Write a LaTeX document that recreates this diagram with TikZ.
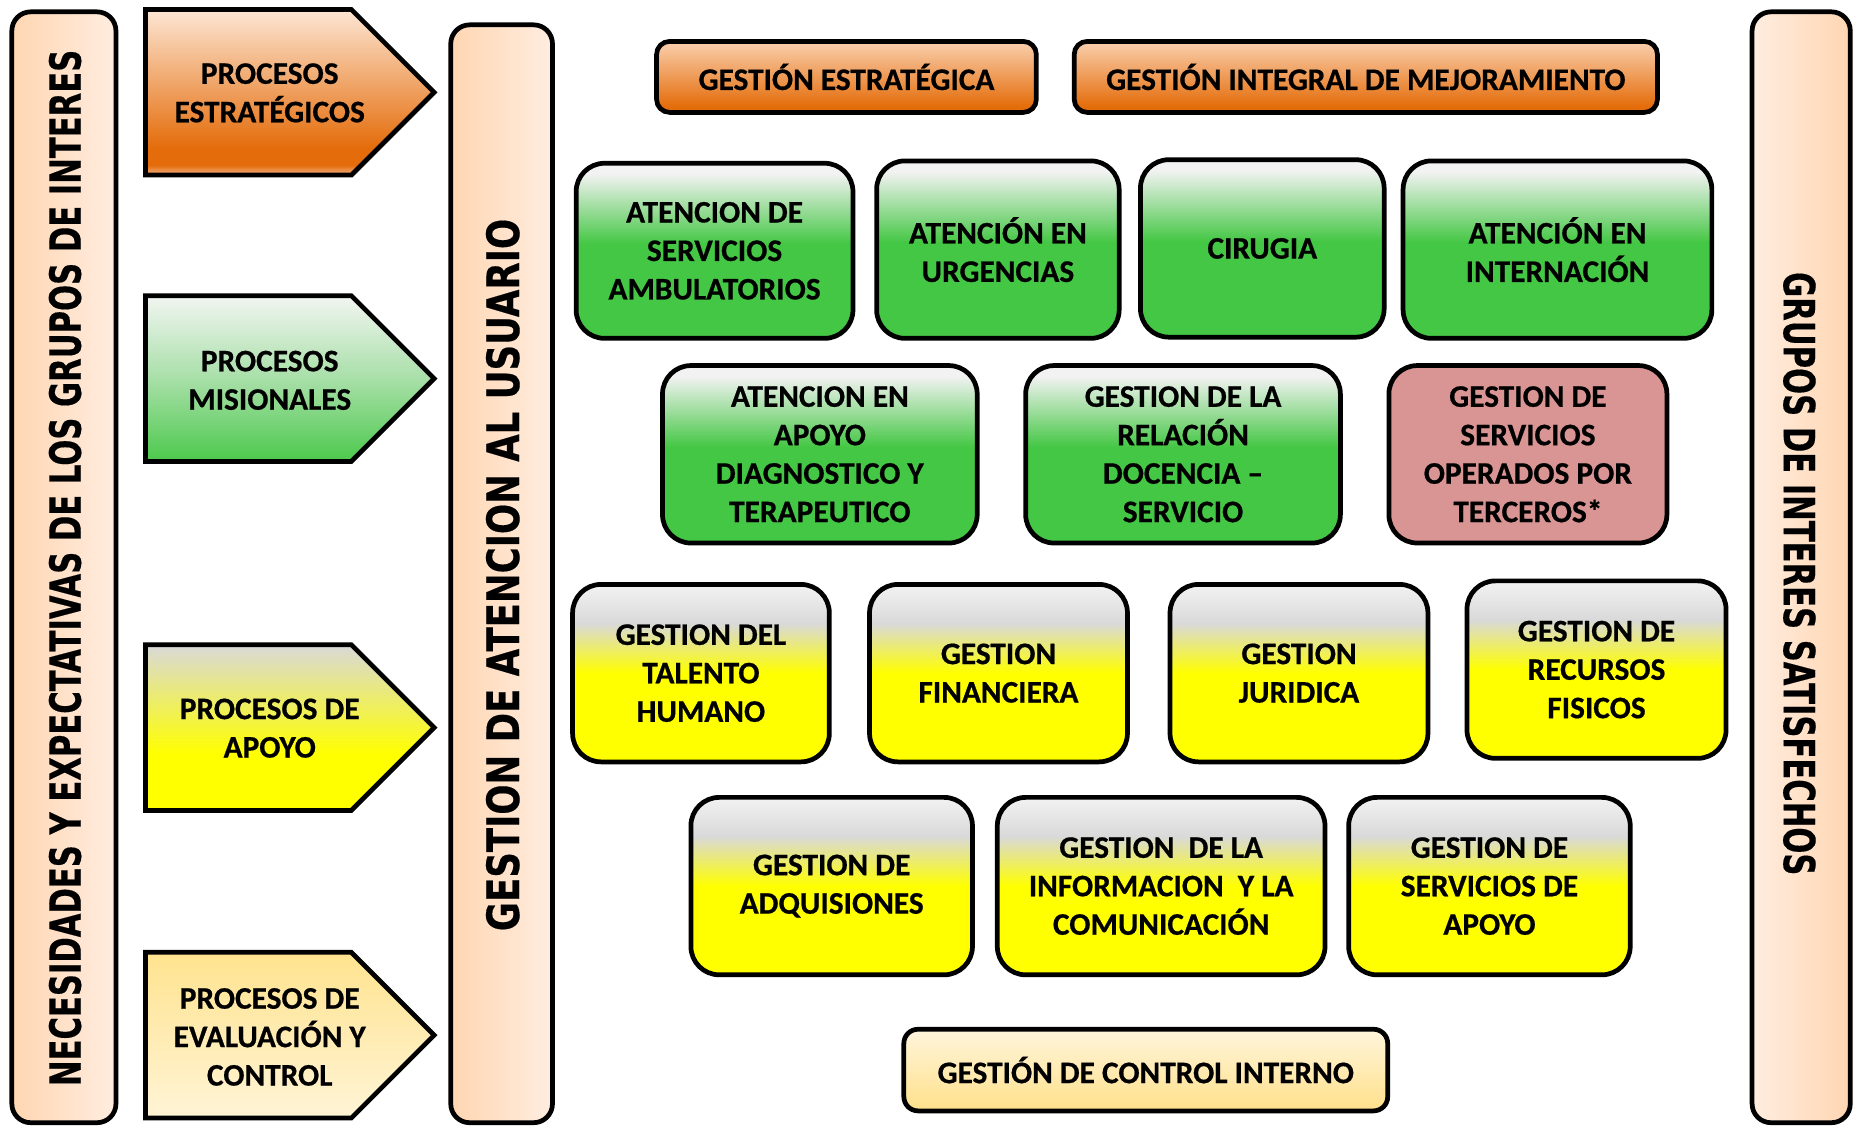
\documentclass[tikz,border=0pt]{standalone}
\usepackage{fontspec}
\usepackage{graphicx}
\setmainfont{Carlito}[BoldFeatures={FakeBold=0.6}]
\newfontfamily\barfont{DejaVu Sans}[BoldFeatures={FakeBold=0.4}]
\definecolor{grnA}{HTML}{44C744}
\definecolor{grnT}{HTML}{F2F2F2}
\definecolor{yelA}{HTML}{FFFF00}
\definecolor{greyY}{HTML}{D9D9D9}
\definecolor{orD}{HTML}{E46C0A}
\definecolor{orB}{HTML}{F5B48A}
\definecolor{orT}{HTML}{FDE6D4}
\definecolor{orBoxT}{HTML}{FAD0AE}
\definecolor{pinkA}{HTML}{D99594}
\definecolor{garrT}{HTML}{F2F5F2}
\definecolor{garrM}{HTML}{A8DFA8}
\definecolor{garrB}{HTML}{4CC94C}
\definecolor{evT}{HTML}{FFE38F}
\definecolor{evB}{HTML}{FFF4D6}
\definecolor{ciT}{HTML}{FFF5DC}
\definecolor{ciB}{HTML}{FFE08A}
\definecolor{barD}{HTML}{FFD6B2}
\definecolor{barL}{HTML}{FFEDE0}
\pgfdeclareverticalshading{greensh}{100bp}{color(0bp)=(grnA); color(25bp)=(grnA); color(52bp)=(grnA); color(72bp)=(grnT); color(75bp)=(grnT); color(100bp)=(grnT)}
\pgfdeclareverticalshading{yellowsh}{100bp}{color(0bp)=(yelA); color(25bp)=(yelA); color(50bp)=(yelA); color(64bp)=(greyY); color(75bp)=(grnT); color(100bp)=(grnT)}
\pgfdeclareverticalshading{orangebox}{100bp}{color(0bp)=(orD); color(25bp)=(orD); color(29bp)=(orD); color(75bp)=(orBoxT); color(100bp)=(orBoxT)}
\pgfdeclareverticalshading{orangearrow}{100bp}{color(0bp)=(orB); color(25bp)=(orB); color(28bp)=(orD); color(33bp)=(orD); color(75bp)=(orT); color(100bp)=(orT)}
\pgfdeclareverticalshading{greenarrow}{100bp}{color(0bp)=(garrB); color(25bp)=(garrB); color(50bp)=(garrM); color(75bp)=(garrT); color(100bp)=(garrT)}
\pgfdeclareverticalshading{yellowarrow}{100bp}{color(0bp)=(yelA); color(25bp)=(yelA); color(42bp)=(yelA); color(75bp)=(greyY); color(100bp)=(greyY)}
\tikzset{
  txt/.style={align=center, font=\bfseries\fontsize{26.5}{32.5}\selectfont, inner sep=0pt},
  bxbase/.style={txt, draw=black, line width=4pt, rounded corners=24pt},
  greenbox/.style={bxbase, shade, shading=greensh},
  yellowbox/.style={bxbase, shade, shading=yellowsh},
  pinkbox/.style={bxbase, fill=pinkA},
  orbox/.style={bxbase, shade, shading=orangebox, rounded corners=11pt},
  cibox/.style={bxbase, top color=ciT, bottom color=ciB, rounded corners=12pt},
  arrowshape/.style={draw=black, line width=4pt, line join=miter},
  barbox/.style={draw=black, line width=4pt, rounded corners=16pt, inner sep=0pt},
  bartxt/.style={inner sep=0pt, font=\barfont\bfseries}
}
\begin{document}
\begin{tikzpicture}[x=1pt,y=-1pt]
\useasboundingbox (0,0) rectangle (1568,953);
\fill[white] (0,0) rectangle (1568,953);

% vertical bars
\node[barbox, left color=barD, right color=barL, minimum width=88pt, minimum height=939pt] (barL) at (54,479.5) {};
\node[bartxt, rotate=90] (barLt) at (55,480) {\resizebox{876pt}{27pt}{NECESIDADES Y EXPECTATIVAS DE LOS GRUPOS DE INTERES}};
\node[barbox, left color=barD, right color=barL, minimum width=86pt, minimum height=928pt] (barM) at (424,485) {};
\node[bartxt, rotate=90] (barMt) at (425,486) {\resizebox{602pt}{28pt}{GESTION DE ATENCION AL USUARIO}};
\node[barbox, left color=barL, right color=barD, minimum width=83pt, minimum height=939pt] (barR) at (1522.5,479.5) {};
\node[bartxt, rotate=-90] (barRt) at (1521,485) {\resizebox{510pt}{27pt}{GRUPOS DE INTERES SATISFECHOS}};

% process arrows
\path[arrowshape, shade, shading=orangearrow] (123,8) -- (297,8) -- (367,78) -- (297,148) -- (123,148) -- cycle;
\node[txt] (pest) at (228,78.5) {PROCESOS\\ESTRATÉGICOS};
\path[arrowshape, shade, shading=greenarrow] (123,250) -- (297,250) -- (367,320) -- (297,390) -- (123,390) -- cycle;
\node[txt] (pmis) at (228,321.5) {PROCESOS\\MISIONALES};
\path[arrowshape, shade, shading=yellowarrow] (123,545) -- (297,545) -- (367,615) -- (297,685) -- (123,685) -- cycle;
\node[txt] (papo) at (228,615.5) {PROCESOS DE\\APOYO};
\path[arrowshape, top color=evT, bottom color=evB] (123,805) -- (297,805) -- (367,875) -- (297,945) -- (123,945) -- cycle;
\node[txt] (peva) at (228,876.5) {PROCESOS DE\\EVALUACIÓN Y\\CONTROL};

% strategic boxes
\node[orbox, minimum width=321pt, minimum height=60pt] (ge) at (715.5,65) {GESTIÓN ESTRATÉGICA};
\node[orbox, minimum width=493pt, minimum height=60pt] (gim) at (1154.5,65) {GESTIÓN INTEGRAL DE MEJORAMIENTO};

% missional row 1
\node[greenbox, minimum width=234pt, minimum height=148pt] (asa) at (604,212) {ATENCION DE\\SERVICIOS\\AMBULATORIOS};
\node[greenbox, minimum width=205pt, minimum height=150pt] (au) at (843.5,211) {ATENCIÓN EN\\URGENCIAS};
\node[greenbox, minimum width=206pt, minimum height=150pt] (cir) at (1067,210) {CIRUGIA};
\node[greenbox, minimum width=261pt, minimum height=150pt] (ai) at (1316.5,211) {ATENCIÓN EN\\INTERNACIÓN};

% missional row 2
\node[greenbox, minimum width=266pt, minimum height=150pt] (aadt) at (693,384) {ATENCION EN\\APOYO\\DIAGNOSTICO Y\\TERAPEUTICO};
\node[greenbox, minimum width=266pt, minimum height=150pt] (grds) at (1000,384) {GESTION DE LA\\RELACIÓN\\DOCENCIA –\\SERVICIO};
\node[pinkbox, minimum width=235pt, minimum height=150pt] (gsot) at (1291.5,384) {GESTION DE\\SERVICIOS\\OPERADOS POR\\TERCEROS*};

% support row 1
\node[yellowbox, minimum width=217pt, minimum height=150pt] (gth) at (592.5,569) {GESTION DEL\\TALENTO\\HUMANO};
\node[yellowbox, minimum width=218pt, minimum height=150pt] (gf) at (844,569) {GESTION\\FINANCIERA};
\node[yellowbox, minimum width=218pt, minimum height=150pt] (gj) at (1098,569) {GESTION\\JURIDICA};
\node[yellowbox, minimum width=219pt, minimum height=150pt] (grf) at (1349.5,566) {GESTION DE\\RECURSOS\\FISICOS};

% support row 2
\node[yellowbox, minimum width=238pt, minimum height=150pt] (ga) at (703,749) {GESTION DE\\ADQUISIONES};
\node[yellowbox, minimum width=277pt, minimum height=150pt] (gic) at (981.5,749) {GESTION~ DE LA\\INFORMACION~ Y LA\\COMUNICACIÓN};
\node[yellowbox, minimum width=238pt, minimum height=150pt] (gsa) at (1259,749) {GESTION DE\\SERVICIOS DE\\APOYO};

% evaluation box
\node[cibox, minimum width=409pt, minimum height=69pt] (gci) at (968.5,904.5) {GESTIÓN DE CONTROL INTERNO};
\end{tikzpicture}
\end{document}
